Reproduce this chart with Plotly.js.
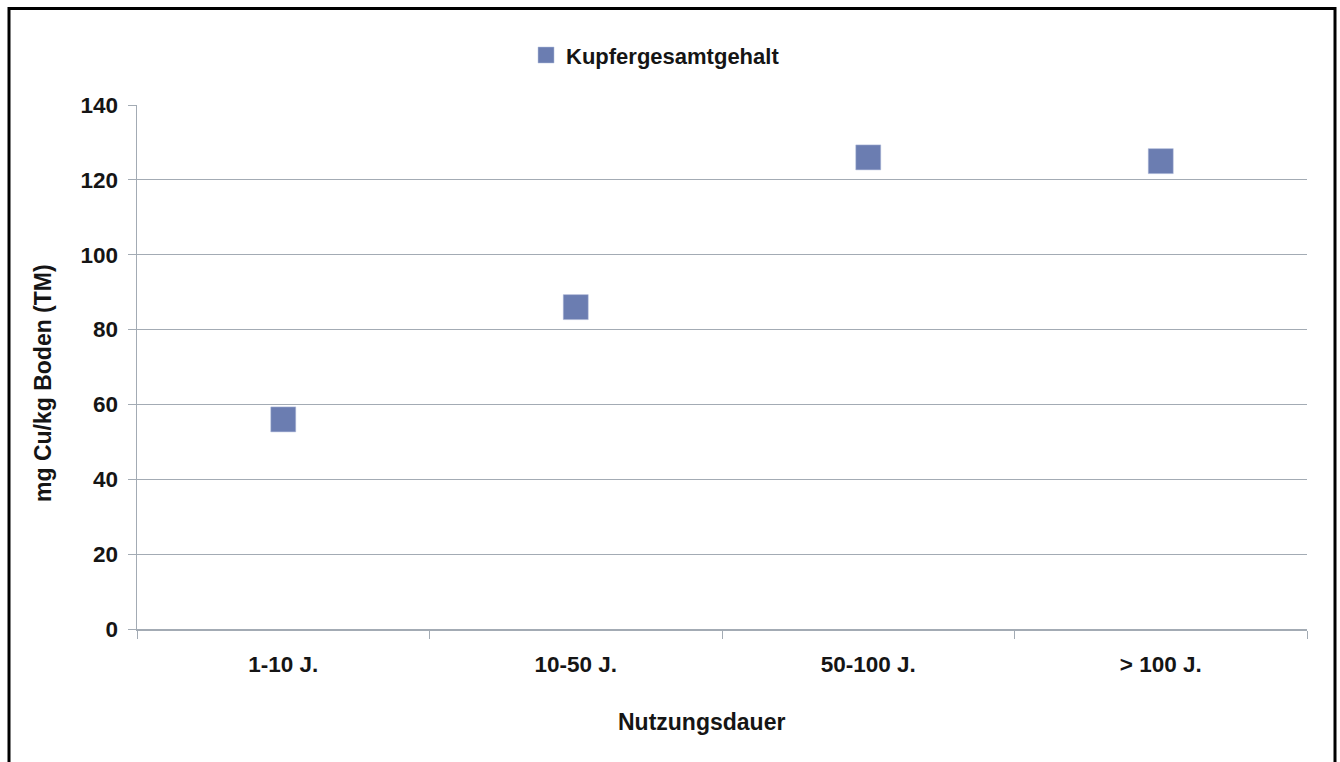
<!DOCTYPE html>
<html>
<head>
<meta charset="utf-8">
<script src="https://cdn.plot.ly/plotly-3.0.1.min.js"></script>
<style>
  html, body { margin: 0; padding: 0; background: #ffffff; }
  #chart { width: 1340px; height: 762px; }
</style>
</head>
<body>
<div id="chart"></div>
<script>
const categories = ["1-10 J.", "10-50 J.", "50-100 J.", "> 100 J."];
const copperTotal = [56, 86, 126, 125];
const seriesName = "Kupfergesamtgehalt";
const yTicks = [0, 20, 40, 60, 80, 100, 120, 140];
const xTitle = "Nutzungsdauer";
const yTitle = "mg Cu/kg Boden (TM)";

const fontFamily = "'Liberation Sans', Arial, sans-serif";
const gridColor = "#a3abb4";
const markerColor = "#6b7db1";
const textColor = "#151515";

const trace = {
  type: "scatter",
  mode: "markers",
  name: seriesName,
  x: categories,
  y: copperTotal,
  marker: { symbol: "square", size: 25, color: markerColor,
            line: { color: "#b4bfdc", width: 0.5 } },
  showlegend: true,
  cliponaxis: false
};

const titleFont = { family: fontFamily, size: 23, weight: "bold", color: textColor };

const layout = {
  width: 1340,
  height: 762,
  margin: { l: 137, r: 33, t: 105, b: 133 },
  paper_bgcolor: "#ffffff",
  plot_bgcolor: "#ffffff",
  font: { family: fontFamily, color: textColor, size: 22 },
  showlegend: true,
  legend: {
    orientation: "h",
    x: 0.3325, xanchor: "left",
    y: 1.095, yanchor: "middle",
    font: { family: fontFamily, size: 22, weight: "bold", color: textColor },
    itemsizing: "trace",
    bgcolor: "rgba(0,0,0,0)"
  },
  xaxis: {
    type: "category",
    range: [-0.5, 3.5],
    tickson: "boundaries",
    ticks: "outside",
    ticklen: 8,
    tickcolor: gridColor,
    showgrid: false,
    showline: true,
    linecolor: gridColor,
    linewidth: 1.5,
    zeroline: false,
    tickfont: { family: fontFamily, size: 22.5, weight: "bold", color: textColor },
    ticklabelstandoff: 14,
    fixedrange: true
  },
  yaxis: {
    range: [0, 140],
    tickvals: yTicks,
    ticktext: yTicks.map(String),
    ticks: "outside",
    ticklen: 8,
    tickcolor: gridColor,
    showgrid: true,
    gridcolor: gridColor,
    gridwidth: 1.2,
    showline: true,
    linecolor: gridColor,
    linewidth: 1.5,
    zeroline: false,
    tickfont: { family: fontFamily, size: 22.5, weight: "bold", color: textColor },
    ticklabelstandoff: 5,
    fixedrange: true
  },
  annotations: [
    { text: xTitle, xref: "paper", yref: "paper",
      x: (701.5 - 137) / 1170, y: (629 - 722) / 524,
      xanchor: "center", yanchor: "middle", showarrow: false, font: titleFont },
    { text: yTitle, xref: "paper", yref: "paper", textangle: -90,
      x: (43 - 137) / 1170, y: (629 - 383) / 524,
      xanchor: "center", yanchor: "middle", showarrow: false, font: titleFont }
  ],
  shapes: [{
    type: "rect",
    xref: "paper", yref: "paper",
    x0: (9 - 137) / 1170, x1: (1335 - 137) / 1170,
    y0: (629 - 800) / 524, y1: (629 - 8.5) / 524,
    line: { color: "#000000", width: 3 },
    fillcolor: "rgba(0,0,0,0)",
    layer: "below"
  }]
};

Plotly.newPlot("chart", [trace], layout, { displayModeBar: false, staticPlot: true });
</script>
</body>
</html>
